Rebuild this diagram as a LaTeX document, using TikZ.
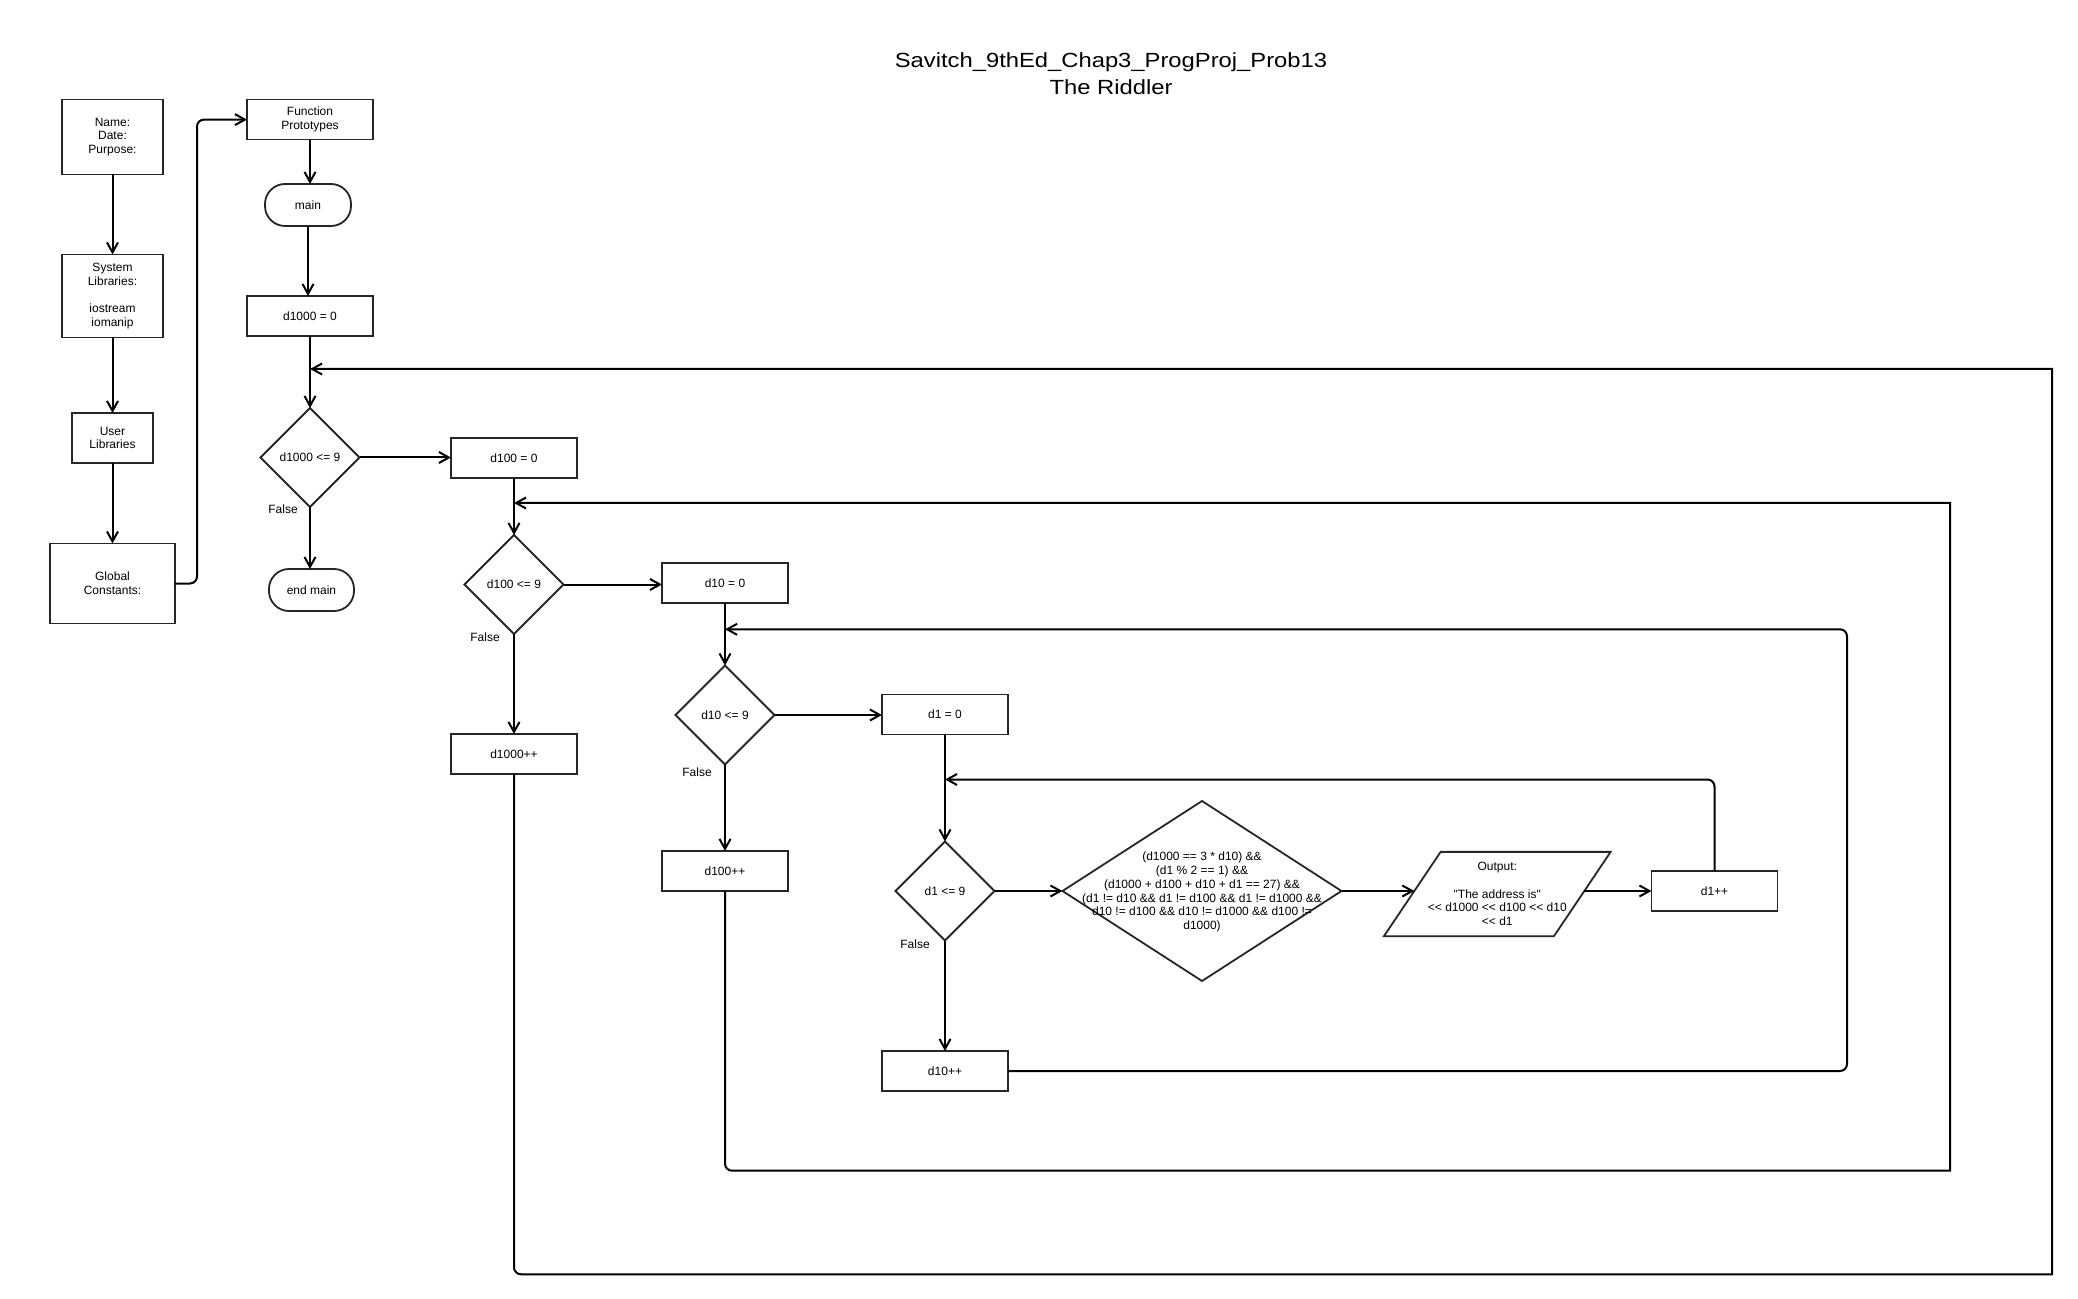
\documentclass[tikz,border=0pt]{standalone}
\usepackage{fontspec}
\setmainfont{Liberation Sans}[Ligatures=TeXOff]
\newfontfamily\titlefont{Liberation Sans}[Ligatures=TeXOff,FakeStretch=1.16]
\usetikzlibrary{arrows.meta,shapes.geometric}
\begin{document}
\begin{tikzpicture}[x=0.5pt,y=-0.5pt,
  every node/.style={font=\fontsize{6pt}{6.9pt}\selectfont, inner sep=0pt, outer sep=0pt, align=center},
  shp/.style={draw=black!85, line width=0.9pt, fill=white},
  box/.style={shp, rectangle, minimum width=63pt, minimum height=20pt},
  term/.style={shp, rectangle, rounded corners=10pt, minimum height=21pt},
  dia/.style={shp, diamond, minimum width=49.5pt, minimum height=49.5pt},
  arr/.style={draw=black, line width=1pt, -{Straight Barb[length=5pt,width=5.5pt,line width=1pt]}},
  lbl/.style={font=\fontsize{6pt}{6.9pt}\selectfont}
]
\useasboundingbox (0,0) rectangle (2078,1299);

% title
\node[font=\titlefont\fontsize{10.25pt}{13.5pt}\selectfont] (title) at (1111,73.7)
  {Savitch\_9thEd\_Chap3\_ProgProj\_Prob13\\The Riddler};

% left column
\node[shp, minimum width=50.5pt, minimum height=37.5pt] (name) at (112.5,137) {Name:\\Date:\\Purpose:};
\node[shp, minimum width=50.5pt, minimum height=41.5pt] (sys) at (112.5,296) {System\\Libraries:\\~\\iostream\\iomanip};
\node[shp, minimum width=40.5pt, minimum height=25pt] (usr) at (112.5,438) {User\\Libraries};
\node[shp, minimum width=62.5pt, minimum height=40pt] (glob) at (112.5,583.5) {Global\\Constants:};

% main column
\node[box, minimum height=20pt] (fp) at (310,119.6) {Function\\Prototypes};
\node[term, minimum width=43pt] (main) at (308,205) {main};
\node[box] (i1000) at (310,316) {d1000 = 0};
\node[dia] (c1000) at (310,457.5) {d1000 <= 9};
\node[term, minimum width=42.5pt] (endm) at (311.5,590) {end main};
\node[lbl] (f1) at (283,509) {False};

\node[box] (i100) at (514,458) {d100 = 0};
\node[dia] (c100) at (514,584.5) {d100 <= 9};
\node[box] (p1000) at (514,754) {d1000++};
\node[lbl] (f2) at (485,637) {False};

\node[box] (i10) at (725,583) {d10 = 0};
\node[dia] (c10) at (725,715) {d10 <= 9};
\node[box] (p100) at (725,871) {d100++};
\node[lbl] (f3) at (697,772) {False};

\node[box] (i1) at (945,714.5) {d1 = 0};
\node[dia] (c1) at (945,891) {d1 <= 9};
\node[box] (p10) at (945,1071) {d10++};
\node[lbl] (f4) at (915,944) {False};

\node[shp, diamond, minimum width=139.5pt, minimum height=90pt] (big) at (1202,891) {};
\node (bigt) at (1202,892) {(d1000 == 3 * d10) \&\&\\(d1 \% 2 == 1) \&\&\\(d1000 + d100 + d10 + d1 == 27) \&\&\\(d1 != d10 \&\& d1 != d100 \&\& d1 != d1000 \&\&\\d10 != d100 \&\& d10 != d1000 \&\& d100 !=\\d1000)};

\node[minimum width=113.35pt, minimum height=42.15pt] (out) at (1497.3,894) {};
\draw[shp] (out.south west) -- ([xshift=28.35pt]out.north west) -- (out.north east) -- ([xshift=-28.35pt]out.south east) -- cycle;
\node (outt) at (1497.3,894) {Output:\\~\\"The address is"\\<< d1000 << d100 << d10\\<< d1};
\coordinate (outL) at ([xshift=15.2pt,yshift=1.5pt]out.west);
\coordinate (outR) at ([xshift=-13.15pt,yshift=1.5pt]out.east);

\node[box] (p1) at (1714.5,891) {d1++};

% junctions
\coordinate (j1) at (310,369);
\coordinate (j2) at (514,503);
\coordinate (j3) at (725,629.3);
\coordinate (j4) at (945,779.5);

% left column connectors
\draw[arr] (name) -- (sys);
\draw[arr] (sys) -- (usr);
\draw[arr] (usr) -- (glob);
\draw[arr, rounded corners=3.5pt] (glob.east) -- ++(22,0) |- (fp.west);

% main flow
\draw[arr] (fp.south) -- (fp.south |- main.north);
\draw[arr] (main.south) -- (main.south |- i1000.north);
\draw[arr] (i1000) -- (c1000);
\draw[arr] (c1000.east) -- (c1000.east -| i100.west);
\draw[arr] (c1000.south) -- (c1000.south |- endm.north);

\draw[arr] (i100) -- (c100);
\draw[arr] (c100.east) -- (c100.east -| i10.west);
\draw[arr] (c100) -- (p1000);

\draw[arr] (i10) -- (c10);
\draw[arr] (c10.east) -- (c10.east -| i1.west);
\draw[arr] (c10) -- (p100);

\draw[arr] (i1) -- (c1);
\draw[arr] (c1.east) -- (big.west);
\draw[arr] (c1) -- (p10);
\draw[arr] (big.east) -- (outL);
\draw[arr] (outR) -- (p1.west);

% loops
\draw[arr] (p1.north) [rounded corners=3.5pt] -- (p1.north |- j4) -- (1400,779.5) -- (j4);
\draw[arr] (p10.east) [rounded corners=3.5pt] -- (1847,1071) -- (1847,629.3) -- (j3);
\draw[arr] (p100.south) [rounded corners=3.5pt] -- (725,1170.7) -- (1300,1170.7) [sharp corners] -- (1950,1170.7) -- (1950,503) -- (j2);
\draw[arr] (p1000.south) [rounded corners=3.5pt] -- (514,1274.3) -- (1200,1274.3) [sharp corners] -- (2052,1274.3) -- (2052,369) -- (j1);
\end{tikzpicture}
\end{document}
